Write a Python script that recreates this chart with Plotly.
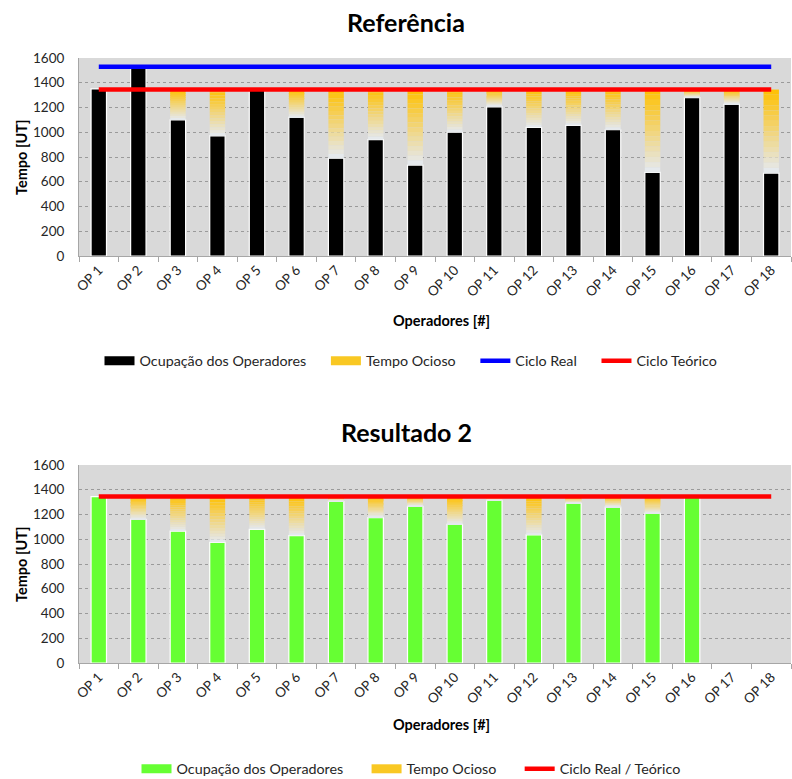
import plotly.graph_objects as go

operadores = [f"OP {i}" for i in range(1, 19)]

# Referência
ref_ocupacao = [1350, 1520, 1100, 970, 1340, 1120, 790, 940, 735, 1000,
                1205, 1040, 1055, 1020, 675, 1280, 1225, 670]
ref_ciclo_real = 1530
ref_ciclo_teorico = 1345

# Resultado 2
res_ocupacao = [1345, 1160, 1065, 975, 1080, 1030, 1305, 1175, 1265, 1120,
                1315, 1035, 1290, 1260, 1210, 1345, None, None]
res_ciclo = 1345

FONT = "Lato, sans-serif"
N_SLICES = 16
TOP_RGB = (255, 192, 0)
BOT_RGB = (228, 234, 244)


def mix(t):
    r, g, b = (round(BOT_RGB[i] * (1 - t) + TOP_RGB[i] * t) for i in range(3))
    return f"rgb({r},{g},{b})"


fig = go.Figure()


def legend_swatch(name, color, legend, rank, width=9):
    fig.add_trace(go.Scatter(
        x=[None], y=[None], mode="lines", name=name,
        line=dict(color=color, width=width), legend=legend, legendrank=rank,
        hoverinfo="skip",
    ))


def add_chart(xa, ya, occ, occ_color, lines, legend, pad):
    sp = "\u00a0" * pad
    fig.add_trace(go.Bar(
        x=operadores, y=occ, base=0, name="Ocupação dos Operadores",
        marker=dict(color=occ_color, line=dict(color="white", width=1.2)),
        xaxis=xa, yaxis=ya, showlegend=False,
    ))
    top = lines[-1][1]
    idle = [(top - v) if (v is not None and top > v) else None for v in occ]
    for k in range(N_SLICES - 1, -1, -1):
        t = (k + 0.5) / N_SLICES
        bases = [None if (v is None or d is None) else v + d * k / N_SLICES
                 for v, d in zip(occ, idle)]
        hs = [None if d is None else d / N_SLICES for d in idle]
        fig.add_trace(go.Bar(
            x=operadores, y=hs, base=bases, name="Tempo Ocioso",
            marker=dict(color=mix(t), line=dict(width=0)),
            xaxis=xa, yaxis=ya, showlegend=False,
        ))
    legend_swatch("Ocupação dos Operadores" + sp, occ_color, legend, 1)
    legend_swatch("Tempo Ocioso" + sp, "#F9C823", legend, 2)
    for i, (nm, val, col) in enumerate(lines):
        last = i == len(lines) - 1
        fig.add_trace(go.Scatter(
            x=operadores, y=[val] * len(operadores), mode="lines",
            name=nm + ("" if last else sp),
            line=dict(color=col, width=4.5), xaxis=xa, yaxis=ya,
            legend=legend, legendrank=3 + i,
        ))


add_chart("x", "y", ref_ocupacao, "#000000",
          [("Ciclo Real", ref_ciclo_real, "#0000FF"),
           ("Ciclo Teórico", ref_ciclo_teorico, "#FF0000")], "legend", 4)
add_chart("x2", "y2", res_ocupacao, "#66FF33",
          [("Ciclo Real / Teórico", res_ciclo, "#FF0000")], "legend2", 5)

H = 779
L, R = 79, 1
W = 792 - L - R
TICKFONT = dict(family=FONT, size=13.5, color="#262626")
axis_x = dict(type="category", tickangle=-45, ticks="outside", tickson="boundaries",
              ticklen=5, tickcolor="#A6A6A6", showline=True, linecolor="#A6A6A6",
              tickfont=TICKFONT, showgrid=False, range=[-0.5, 17.5], automargin=False)
axis_y = dict(range=[0, 1600], dtick=200, showgrid=True, gridcolor="#9A9A9A",
              griddash="3px,3px", gridwidth=1, showline=True, linecolor="#A6A6A6",
              tickfont=TICKFONT, zeroline=False, automargin=False, ticklabelstandoff=11)

LEGFONT = dict(family=FONT, size=14.3, color="#262626")
fig.update_layout(
    width=792, height=H,
    margin=dict(l=L, r=R, t=0, b=0, autoexpand=False),
    paper_bgcolor="white", plot_bgcolor="#D9D9D9",
    barmode="overlay", bargap=0.61,
    xaxis=dict(axis_x, domain=[0, 1], anchor="y"),
    yaxis=dict(axis_y, domain=[(H - 256) / H, (H - 58) / H], anchor="x"),
    xaxis2=dict(axis_x, domain=[0, 1], anchor="y2"),
    yaxis2=dict(axis_y, domain=[(H - 663) / H, (H - 465) / H], anchor="x2"),
    legend=dict(orientation="h", x=(411 - L) / W, xanchor="center", y=(H - 361) / H,
                yanchor="middle", font=LEGFONT, traceorder="normal",
                bgcolor="rgba(0,0,0,0)"),
    legend2=dict(orientation="h", x=(411 - L) / W, xanchor="center", y=(H - 769) / H,
                 yanchor="middle", font=LEGFONT, traceorder="normal",
                 bgcolor="rgba(0,0,0,0)"),
    showlegend=True,
)

ann_common = dict(xref="paper", yref="paper", showarrow=False,
                  xanchor="center", yanchor="middle")
fig.add_annotation(text="<b>Referência</b>", x=(406 - L) / W, y=(H - 22) / H,
                   font=dict(family=FONT, size=25, color="#000000"), **ann_common)
fig.add_annotation(text="<b>Resultado 2</b>", x=(406 - L) / W, y=(H - 432) / H,
                   font=dict(family=FONT, size=25, color="#000000"), **ann_common)
for yy in (320, 724):
    fig.add_annotation(text="<b>Operadores [#]</b>", x=(441 - L) / W, y=(H - yy) / H,
                       font=dict(family=FONT, size=14.5, color="#000000"), **ann_common)
for yy in (157, 564):
    fig.add_annotation(text="<b>Tempo [UT]</b>", x=(21 - L) / W, y=(H - yy) / H,
                       textangle=-90, font=dict(family=FONT, size=14.5, color="#000000"),
                       **ann_common)

fig.write_html(
    "out.html",
    config={"displayModeBar": False},
    post_script="document.body.style.margin='0';document.body.style.overflow='hidden';",
)
